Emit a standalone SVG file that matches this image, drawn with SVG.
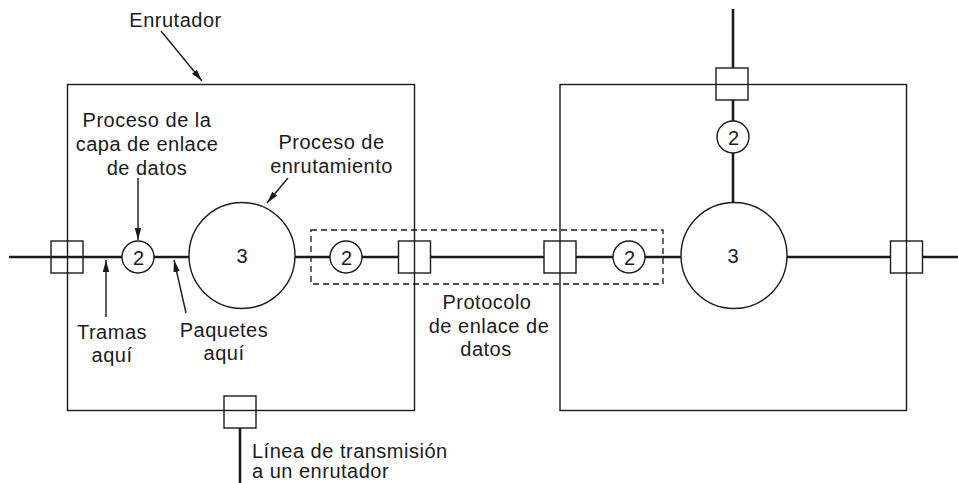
<svg xmlns="http://www.w3.org/2000/svg" width="958" height="483" viewBox="0 0 958 483">
  <style>
    .bg { fill: #ffffff; }
    .line { stroke: #1a1a1a; stroke-width: 2.6; fill: none; stroke-linecap: butt; }
    .box { stroke: #1a1a1a; stroke-width: 1.4; fill: none; }
    .sq { stroke: #1a1a1a; stroke-width: 1.4; fill: #ffffff; }
    .sq-open { stroke: #1a1a1a; stroke-width: 1.4; fill: none; }
    .circ { stroke: #1a1a1a; stroke-width: 1.4; fill: #ffffff; }
    .dash { stroke: #1a1a1a; stroke-width: 1.3; fill: none; stroke-dasharray: 6 4; }
    .lbl { font-family: "Liberation Sans", Arial, Helvetica, sans-serif; font-size: 20px; letter-spacing: 0.5px; fill: #1a1a1a; }
    .mid { text-anchor: middle; }
    .num { font-family: "Liberation Sans", Arial, Helvetica, sans-serif; font-size: 20px; fill: #1a1a1a; text-anchor: middle; }
    .arr { stroke: #1a1a1a; stroke-width: 1.4; fill: none; marker-end: url(#ah); }
  </style>
  <defs>
    <marker id="ah" viewBox="0 0 12 8" refX="12" refY="4" markerWidth="12" markerHeight="8" markerUnits="userSpaceOnUse" orient="auto">
      <path d="M0,0.8 L12,4 L0,7.2 Z" fill="#1a1a1a"/>
    </marker>
  </defs>
  <rect class="bg" x="0" y="0" width="958" height="483"/>

  <g id="connectors">
    <line class="line" x1="9" y1="257" x2="958" y2="257"/>
    <line class="line" x1="733" y1="9" x2="733" y2="202"/>
    <line class="line" x1="240" y1="412" x2="240" y2="483"/>
    <line class="arr" x1="161" y1="31" x2="202" y2="81"/>
    <line class="arr" x1="138" y1="178" x2="138" y2="240"/>
    <line class="arr" x1="288" y1="178" x2="267" y2="203"/>
    <line class="arr" x1="106" y1="317" x2="106" y2="260"/>
    <line class="arr" x1="186" y1="313" x2="174" y2="260"/>
  </g>

  <g id="dlc-process-left">
    <circle class="circ" cx="138" cy="257" r="16"/>
    <text class="num" x="138.5" y="265">2</text>
  </g>
  <g id="routing-process-left">
    <circle class="circ" cx="242" cy="255.5" r="53"/>
    <text class="num" x="242" y="262.5">3</text>
  </g>
  <g id="dlc-process-left-out">
    <circle class="circ" cx="346" cy="257" r="16"/>
    <text class="num" x="346.5" y="265">2</text>
  </g>
  <g id="dlc-process-right-in">
    <circle class="circ" cx="629" cy="257" r="16"/>
    <text class="num" x="629.5" y="265">2</text>
  </g>
  <g id="routing-process-right">
    <circle class="circ" cx="734" cy="255.5" r="53"/>
    <text class="num" x="733" y="262.5">3</text>
  </g>
  <g id="dlc-process-right-top">
    <circle class="circ" cx="733" cy="137" r="16"/>
    <text class="num" x="733.5" y="145">2</text>
  </g>

  <g id="port-left">
    <rect class="sq-open" x="51" y="241" width="32" height="32"/>
  </g>
  <g id="port-left-right">
    <rect class="sq" x="398.5" y="241" width="32" height="32"/>
  </g>
  <g id="port-left-bottom">
    <rect class="sq" x="224" y="396" width="32" height="32"/>
  </g>
  <g id="port-right-left">
    <rect class="sq" x="544" y="241" width="32" height="32"/>
  </g>
  <g id="port-right-top">
    <rect class="sq" x="716" y="68" width="32" height="32"/>
  </g>
  <g id="port-right-right">
    <rect class="sq" x="890.5" y="241" width="32" height="32"/>
  </g>

  <g id="router-left">
    <rect class="box" x="67.5" y="84.5" width="347" height="326"/>
  </g>
  <g id="router-right">
    <rect class="box" x="560" y="84.5" width="346.5" height="326"/>
  </g>

  <g id="dlc-protocol">
    <rect class="dash" x="311" y="230" width="352" height="54"/>
  </g>

  <g id="labels">
    <text class="lbl mid" x="175.5" y="26.5">Enrutador</text>
    <text class="lbl mid" x="147" y="126.5">Proceso de la</text>
    <text class="lbl mid" x="147" y="150.5">capa de enlace</text>
    <text class="lbl mid" x="147" y="174.5">de datos</text>
    <text class="lbl mid" x="331.5" y="149">Proceso de</text>
    <text class="lbl mid" x="331.5" y="172.5">enrutamiento</text>
    <text class="lbl mid" x="112" y="339">Tramas</text>
    <text class="lbl mid" x="112" y="361.5">aquí</text>
    <text class="lbl mid" x="224" y="336.5">Paquetes</text>
    <text class="lbl mid" x="224" y="359.5">aquí</text>
    <text class="lbl mid" x="487" y="308.5">Protocolo</text>
    <text class="lbl mid" x="489" y="332.5">de enlace de</text>
    <text class="lbl mid" x="486" y="356">datos</text>
    <text class="lbl" x="252" y="458">Línea de transmisión</text>
    <text class="lbl" x="252" y="478">a un enrutador</text>
  </g>
</svg>
